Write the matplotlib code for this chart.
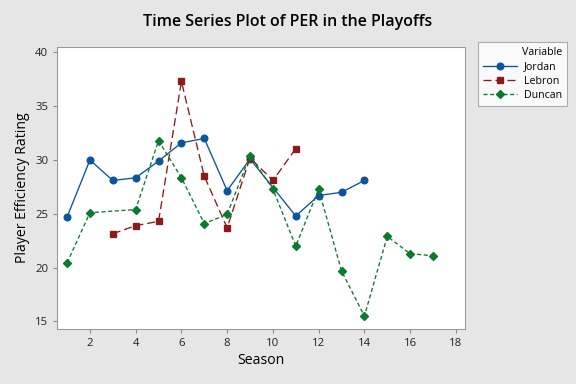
import matplotlib.pyplot as plt
import matplotlib

matplotlib.rcParams['font.family'] = ['Open Sans', 'DejaVu Sans']

# 数据
jordan_season = [1, 2, 3, 4, 5, 6, 7, 8, 9, 11, 12, 13, 14]
jordan_per = [24.7, 30.0, 28.1, 28.35, 29.9, 31.6, 32.0, 27.15, 30.1, 24.8, 26.7, 27.0, 28.1]

lebron_season = [3, 4, 5, 6, 7, 8, 9, 10, 11]
lebron_per = [23.15, 23.9, 24.3, 37.3, 28.5, 23.7, 30.2, 28.1, 31.05]

duncan_season = [1, 2, 4, 5, 6, 7, 8, 9, 10, 11, 12, 13, 14, 15, 16, 17]
duncan_per = [20.45, 25.1, 25.4, 31.8, 28.35, 24.1, 24.95, 30.4, 27.3, 22.0, 27.3, 19.7, 15.5, 22.9, 21.3, 21.1]

bg = '#E6E6E6'
fig = plt.figure(figsize=(6, 4), dpi=96, facecolor=bg)
ax = fig.add_axes([57 / 576, 1 - 329 / 384, 408 / 576, 282 / 384])

ax.plot(jordan_season, jordan_per, color='#0B559C', linewidth=1, marker='o', markersize=5,
        linestyle='-', label='Jordan')
ax.plot(lebron_season, lebron_per, color='#8C1A1A', linewidth=1, marker='s', markersize=5,
        linestyle=(0, (6, 3)), label='Lebron')
ax.plot(duncan_season, duncan_per, color='#0A7A2C', linewidth=1, marker='D', markersize=4.5,
        linestyle=(0, (3, 2)), label='Duncan')

ax.set_xlim(0.56, 18.4)
ax.set_ylim(14.3, 40.5)
ax.set_xticks(range(2, 19, 2))
ax.set_yticks(range(15, 41, 5))
ax.tick_params(labelsize=8.5, length=3, color='#888888', labelcolor='#222222')
for s in ax.spines.values():
    s.set_color('#999999')

ax.set_xlabel('Season', fontsize=10.5, labelpad=3)
ax.set_ylabel('Player Efficiency Rating', fontsize=10.5, labelpad=4)
fig.text(0.5, 1 - 22 / 384, 'Time Series Plot of PER in the Playoffs',
         ha='center', va='center', fontsize=12, fontweight='semibold')

leg = ax.legend(loc='upper left', bbox_to_anchor=(478 / 576, 1 - 42 / 384),
                bbox_transform=fig.transFigure, title='Variable', fontsize=8,
                title_fontsize=8, frameon=True, fancybox=False, handlelength=3.2,
                borderpad=0.5, labelspacing=0.3, handletextpad=0.6, borderaxespad=0)
leg.get_frame().set_edgecolor('#999999')
leg.get_frame().set_linewidth(0.8)
leg._legend_box.align = 'right'

fig.savefig('out.png', dpi=96, facecolor=bg)
